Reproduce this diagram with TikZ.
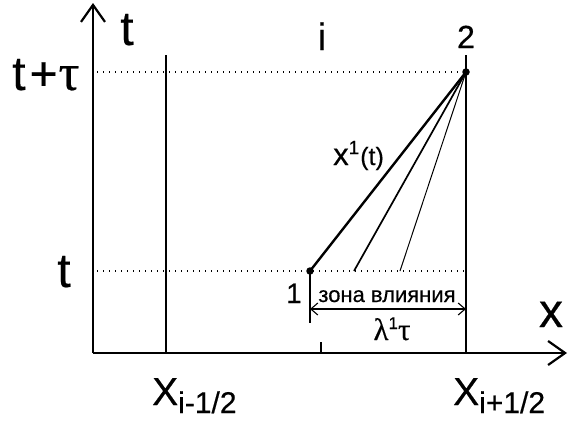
\documentclass[tikz,border=0pt]{standalone}
\usepackage{fontspec}
\setmainfont{Liberation Sans}[FakeBold=0.4]
\newfontfamily\grk{Liberation Serif}[FakeBold=0.4]
\usetikzlibrary{arrows.meta}
\newcommand\fs[1]{\fontsize{#1}{#1}\selectfont}
\begin{document}
\begin{tikzpicture}[x=1pt,y=-1pt,
 axis/.style={line width=1.3pt},
 cell/.style={line width=1.5pt},
 guide/.style={line width=1.4pt, dash pattern=on 1.4pt off 4.6pt},
 lbl/.style={inner sep=0pt, anchor=base},
 dot/.style={circle, fill, inner sep=0pt, minimum size=7.5pt},
 bigtip/.style={-{Straight Barb[length=17pt,width=24pt,line width=2.2pt]}},
 dimtip/.style={{Straight Barb[length=7pt,width=12pt]}-{Straight Barb[length=7pt,width=12pt]}}]
\useasboundingbox (0,0) rectangle (568,423);
% coordinates
\coordinate (O) at (93,353);
\coordinate (ytop) at (93,3);
\coordinate (xend) at (567,353);
\coordinate (Lt) at (166,55);
\coordinate (Lb) at (166,353);
\coordinate (Rt) at (466,55);
\coordinate (Rb) at (466,353);
\coordinate (g1s) at (97,72);
\coordinate (g2s) at (97,271);
\coordinate (g2e) at (466,271);
\coordinate (c2) at (354,271);
\coordinate (c3) at (400,271);
\coordinate (p1b) at (310,323);
\coordinate (dl) at (310,309);
\coordinate (dr) at (466,309);
\coordinate (tk1) at (321,342);
\coordinate (tk2) at (321,353);
\node[dot] (P1) at (310,271) {};
\node[dot] (P2) at (466,72) {};
% axes
\draw[axis,bigtip] (O) -- (ytop);
\draw[axis,bigtip] (O) -- (xend);
% cell boundaries
\draw[cell] (Lt) -- (Lb);
\draw[cell] (Rt) -- (Rb);
\draw[axis] (tk1) -- (tk2);
% guides
\draw[guide] (g1s) -- (P2.center);
\draw[guide] (g2s) -- (g2e);
% characteristics
\draw[line width=2.4pt] (P2.center) -- (P1.center);
\draw[line width=1.7pt] (P2.center) -- (c2);
\draw[line width=1pt] (P2.center) -- (c3);
% dimension
\draw[axis] (P1.center) -- (p1b);
\draw[line width=1.1pt,dimtip] (dl) -- (dr);
% labels
\node[lbl] (tlab) at (127,45) {\fs{48}t};
\node[lbl,anchor=base west] (ttau) at (12,90) {\fs{48}t\kern4pt+\kern1pt{\grk\fs{52}τ}};
\node[lbl] (tl) at (64,287) {\fs{48}t};
\node[lbl] (ilab) at (322,50) {\fs{38}i};
\node[lbl] (n2) at (466,48) {\fs{32}2};
\node[lbl] (n1) at (294,303) {\fs{28}1};
\node[lbl] (zone) at (387,302) {\fs{22}зона влияния};
\node[lbl] (lam) at (392,340) {\fs{31}{\grk λ}\raisebox{11pt}{\fs{17}1}{\grk τ}};
\node[lbl,anchor=base west] (xt) at (333,165) {\fs{31}x\raisebox{11pt}{\fs{19}1}\kern1pt\fs{25}(t)};
\node[lbl] (xl) at (551,327) {\fs{48}x};
\node[lbl,anchor=base west] (Xm) at (152,405) {\fs{39}X\raisebox{-8pt}{\fs{30}i-1/2}};
\node[lbl,anchor=base west] (Xp) at (453,405) {\fs{39}X\raisebox{-8pt}{\fs{30}i+1/2}};
\end{tikzpicture}
\end{document}
